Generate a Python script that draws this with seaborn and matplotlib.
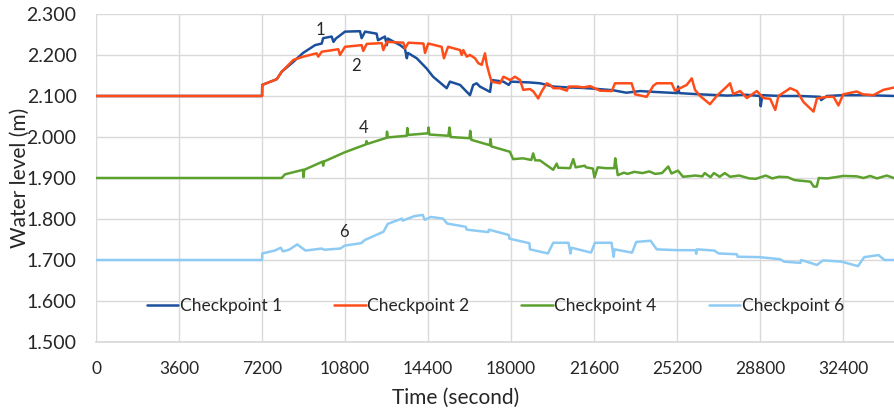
import numpy as np
import pandas as pd
import seaborn as sns
import matplotlib
matplotlib.use("Agg")
import matplotlib.pyplot as plt

# ---- data (time in seconds, water level in m) ----
t_cp1 = [0, 7200, 7210, 7840, 8050, 8490, 8980, 9500, 9790, 9850, 10220, 10300, 10400,
         10800, 11450, 11520, 11670, 12170, 12230, 12530, 12610, 12660, 13190, 13400,
         13480, 13530, 13910, 14340, 14620, 15210, 15350, 15790, 16220, 16360, 16510,
         16650, 17090, 17160, 17670, 17900, 18000, 18820, 19260, 19840, 20420, 21000,
         21560, 22430, 23000, 23600, 24200, 25200, 25250, 25300, 26200, 27370, 28200,
         28800, 28830, 28900, 29700, 30540, 31400, 31450, 31700, 32400, 33440, 34650]
h_cp1 = [2.100, 2.100, 2.127, 2.141, 2.159, 2.180, 2.205, 2.224, 2.228, 2.241, 2.245, 2.232, 2.240,
         2.257, 2.258, 2.241, 2.257, 2.252, 2.236, 2.245, 2.224, 2.240, 2.224, 2.215,
         2.192, 2.205, 2.192, 2.167, 2.147, 2.119, 2.135, 2.127, 2.102, 2.127, 2.131,
         2.123, 2.110, 2.139, 2.135, 2.127, 2.135, 2.133, 2.131, 2.123, 2.121, 2.120,
         2.118, 2.114, 2.108, 2.112, 2.110, 2.107, 2.123, 2.107, 2.104, 2.101, 2.103,
         2.100, 2.075, 2.102, 2.100, 2.100, 2.098, 2.090, 2.100, 2.102, 2.102, 2.100]

t_cp2 = [0, 7200, 7210, 7840, 8050, 8560, 8990, 9570, 9640, 9790, 10510, 10580, 10800,
         11520, 11590, 11740, 12390, 12460, 12610, 13330, 13400, 13550, 14200, 14270,
         14410, 14990, 15090, 15270, 15790, 15860, 15930, 16080, 16220, 16440, 16580,
         16730, 16870, 16950, 17090, 17160, 17520, 17670, 17960, 18170, 18390, 18530,
         18820, 18970, 19180, 19330, 19550, 19690, 19840, 20120, 20420, 20490, 20850,
         21140, 21430, 21860, 22370, 22510, 23230, 23380, 23880, 24170, 24320, 24970,
         25110, 25620, 25840, 25980, 26200, 26630, 26920, 27360, 27500, 27640, 27940,
         28230, 28660, 28950, 29240, 29460, 29600, 30110, 30400, 30690, 31120, 31270,
         31700, 31990, 32200, 32410, 32990, 33270, 33710, 34150, 34650]
h_cp2 = [2.100, 2.100, 2.127, 2.141, 2.159, 2.188, 2.196, 2.204, 2.196, 2.208, 2.214, 2.200, 2.220,
         2.224, 2.210, 2.227, 2.229, 2.212, 2.232, 2.230, 2.216, 2.230, 2.228, 2.205,
         2.228, 2.220, 2.192, 2.220, 2.212, 2.200, 2.212, 2.196, 2.200, 2.192, 2.180,
         2.176, 2.204, 2.176, 2.147, 2.135, 2.131, 2.147, 2.139, 2.147, 2.139, 2.115,
         2.117, 2.111, 2.094, 2.111, 2.131, 2.127, 2.119, 2.119, 2.113, 2.123, 2.123,
         2.121, 2.124, 2.113, 2.112, 2.131, 2.131, 2.104, 2.098, 2.125, 2.131, 2.131,
         2.113, 2.127, 2.143, 2.115, 2.100, 2.080, 2.100, 2.123, 2.131, 2.105, 2.112,
         2.095, 2.112, 2.095, 2.093, 2.066, 2.100, 2.119, 2.112, 2.085, 2.062, 2.094,
         2.098, 2.098, 2.077, 2.104, 2.111, 2.104, 2.102, 2.115, 2.121]

t_cp4 = [0, 8050, 8200, 8980, 9000, 9030, 9830, 9850, 9880, 10800, 10850, 11710, 11730,
         11760, 12600, 12620, 12660, 13480, 13500, 13540, 14400, 14420, 14460, 15280,
         15330, 15380, 16200, 16230, 16280, 17080, 17110, 17150, 17950, 18090, 18520,
         18880, 18960, 19050, 19250, 19830, 19980, 20050, 20560, 20700, 20800, 21200,
         21250, 21550, 21620, 21760, 22100, 22480, 22520, 22630, 22900, 23050, 23350,
         23700, 24000, 24250, 24550, 24820, 24960, 25240, 25460, 26000, 26300, 26400,
         26650, 26800, 27050, 27270, 27500, 27900, 28330, 28620, 29050, 29330, 29620,
         30000, 30290, 30990, 31130, 31260, 31350, 31720, 32420, 33000, 33290, 33580,
         33870, 34300, 34650]
h_cp4 = [1.900, 1.900, 1.909, 1.920, 1.902, 1.920, 1.940, 1.930, 1.940, 1.963, 1.964, 1.982, 1.990,
         1.983, 1.998, 2.013, 1.999, 2.003, 2.022, 2.005, 2.009, 2.023, 2.006, 2.003,
         2.023, 2.000, 1.997, 2.015, 1.993, 1.980, 1.995, 1.977, 1.964, 1.946, 1.948,
         1.944, 1.960, 1.943, 1.943, 1.920, 1.935, 1.925, 1.924, 1.946, 1.926, 1.930,
         1.926, 1.923, 1.901, 1.926, 1.924, 1.924, 1.948, 1.907, 1.913, 1.910, 1.915,
         1.912, 1.916, 1.910, 1.912, 1.928, 1.911, 1.918, 1.903, 1.906, 1.904, 1.912,
         1.902, 1.912, 1.903, 1.912, 1.903, 1.906, 1.899, 1.898, 1.906, 1.899, 1.903,
         1.902, 1.895, 1.891, 1.879, 1.879, 1.900, 1.899, 1.905, 1.904, 1.900, 1.905,
         1.899, 1.906, 1.899]

t_cp6 = [0, 7200, 7213, 7750, 8015, 8106, 8371, 8727, 9087, 9798, 9889, 10600, 10778,
         11494, 11667, 12470, 12650, 13270, 13300, 13810, 14170, 14258, 14520, 15050,
         15225, 16034, 16080, 17016, 17040, 17904, 17930, 18797, 18820, 19600, 19830,
         20490, 20580, 20620, 21470, 21640, 22360, 22450, 22490, 23250, 23430, 24050,
         24320, 25210, 26010, 26030, 26060, 26820, 27000, 27800, 27830, 28770, 29670,
         29840, 30555, 30580, 31270, 31535, 32340, 33050, 33320, 33940, 34200, 34650]
h_cp6 = [1.700, 1.700, 1.716, 1.723, 1.730, 1.721, 1.725, 1.738, 1.723, 1.728, 1.725, 1.728, 1.735,
         1.741, 1.749, 1.769, 1.788, 1.801, 1.796, 1.807, 1.810, 1.798, 1.805, 1.801,
         1.789, 1.781, 1.774, 1.768, 1.774, 1.761, 1.752, 1.741, 1.726, 1.716, 1.742,
         1.742, 1.716, 1.730, 1.718, 1.742, 1.742, 1.708, 1.726, 1.718, 1.744, 1.747,
         1.726, 1.724, 1.724, 1.715, 1.726, 1.723, 1.716, 1.714, 1.708, 1.707, 1.702,
         1.696, 1.693, 1.700, 1.688, 1.699, 1.696, 1.685, 1.707, 1.712, 1.700, 1.700]

names = ["Checkpoint 1", "Checkpoint 2", "Checkpoint 4", "Checkpoint 6"]
colors = ["#1b4f9c", "#ff4d1a", "#5ca12e", "#8ecbf4"]
notes = ["1", "2", "4", "6"]
note_t = [9720, 11270, 11620, 10750]
note_h = [2.262, 2.173, 2.022, 1.769]

x_ticks = list(range(0, 32401, 3600))
y_ticks = [1.5, 1.6, 1.7, 1.8, 1.9, 2.0, 2.1, 2.2, 2.3]

frames = []
for name, t, h in zip(names, [t_cp1, t_cp2, t_cp4, t_cp6], [h_cp1, h_cp2, h_cp4, h_cp6]):
    frames.append(pd.DataFrame({"time": t, "level": h, "checkpoint": name}))
df = pd.concat(frames, ignore_index=True)

sns.set_theme(style="white")
plt.rcParams['font.family'] = ['Lato', 'DejaVu Sans']

fig = plt.figure(figsize=(8.95, 4.09), dpi=100)
ax = fig.add_axes([0.1073, 0.1638, 0.8927, 0.802])

sns.lineplot(data=df, x="time", y="level", hue="checkpoint", hue_order=names,
             palette=colors, estimator=None, sort=False, linewidth=1.8, ax=ax)

for s, tt, hh in zip(notes, note_t, note_h):
    ax.text(tt, hh, s, fontsize=12, color="#262626", ha="center", va="center")

ax.set_xlim(0, 34655)
ax.set_ylim(1.5, 2.3)
ax.set_xticks(x_ticks)
ax.set_yticks(y_ticks)
ax.set_yticklabels(["%.3f" % v for v in y_ticks])
ax.tick_params(axis="x", labelsize=12.5, pad=14, length=0, colors="#262626")
ax.tick_params(axis="y", labelsize=14, pad=14, length=0, colors="#262626")
ax.grid(True, color="#d9d9d9", linewidth=1.0)
for side in ["top", "right", "left"]:
    ax.spines[side].set_visible(False)
ax.spines["bottom"].set_color("#d9d9d9")

ax.set_xlabel("Time (second)", fontsize=15, color="#262626")
ax.xaxis.set_label_coords(0.4506, -0.14)
ax.set_ylabel("Water level (m)", fontsize=15, color="#262626")
ax.yaxis.set_label_coords(-0.083, 0.5)

handles, labels = ax.get_legend_handles_labels()
ax.legend(handles, labels, loc="center", bbox_to_anchor=(0.5, 0.11), ncol=4,
          frameon=False, fontsize=12.5, handlelength=1.8, handletextpad=0.1,
          columnspacing=3.0)

fig.savefig("out.png", dpi=100)
